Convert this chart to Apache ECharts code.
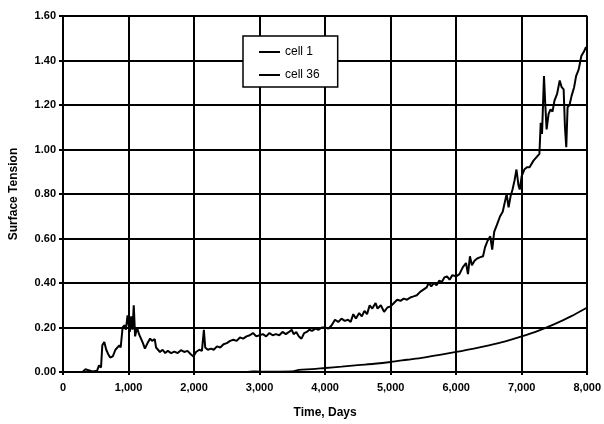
<!DOCTYPE html>
<html>
<head>
<meta charset="utf-8">
<script src="https://cdn.jsdelivr.net/npm/echarts@6/dist/echarts.min.js"></script>
<style>
  html, body { margin: 0; padding: 0; background: #fff; }
  #chart { width: 604px; height: 424px; }
</style>
</head>
<body>
<div id="chart"></div>
<script>
// x 轴刻度 (days)
const xTicks = [0, 1000, 2000, 3000, 4000, 5000, 6000, 7000, 8000]
// y 轴刻度
const yTicks = [0, 0.2, 0.4, 0.6, 0.8, 1.0, 1.2, 1.4, 1.6]

// cell 1: noisy curve [day, surface tension]
const cell1 = [
  [0, 0], [150, 0], [300, 0], [340, 0.012], [370, 0.004], [450, 0.002], [520, 0.006], [550, 0.03],
  [580, 0.02], [600, 0.12], [630, 0.135], [660, 0.1], [690, 0.08], [720, 0.065], [760, 0.07], [800, 0.1],
  [830, 0.095], [860, 0.12], [880, 0.11], [910, 0.2], [940, 0.21], [960, 0.19], [985, 0.255], [1000, 0.22],
  [1020, 0.18], [1040, 0.25], [1060, 0.19], [1080, 0.3], [1100, 0.16], [1130, 0.2], [1160, 0.17], [1190, 0.165],
  [1220, 0.13], [1250, 0.105], [1290, 0.13], [1330, 0.15], [1360, 0.14], [1400, 0.148], [1420, 0.11], [1450, 0.1],
  [1480, 0.09], [1520, 0.1], [1560, 0.085], [1600, 0.095], [1650, 0.085], [1700, 0.092], [1750, 0.085], [1800, 0.098],
  [1850, 0.09], [1900, 0.095], [1950, 0.08], [1990, 0.07], [2030, 0.09], [2080, 0.1], [2120, 0.095], [2150, 0.19],
  [2170, 0.11], [2210, 0.1], [2260, 0.105], [2300, 0.1], [2350, 0.115], [2400, 0.11], [2450, 0.125], [2500, 0.13],
  [2550, 0.14], [2600, 0.145], [2650, 0.14], [2700, 0.155], [2750, 0.15], [2800, 0.16], [2850, 0.165], [2900, 0.175],
  [2950, 0.16], [3000, 0.165], [3050, 0.17], [3100, 0.16], [3150, 0.175], [3200, 0.165], [3250, 0.17], [3300, 0.165],
  [3350, 0.18], [3400, 0.17], [3450, 0.18], [3490, 0.19], [3520, 0.17], [3560, 0.18], [3600, 0.16], [3640, 0.15],
  [3680, 0.175], [3720, 0.18], [3760, 0.19], [3800, 0.185], [3850, 0.195], [3900, 0.19], [3950, 0.2], [4000, 0.2],
  [4050, 0.195], [4100, 0.21], [4150, 0.235], [4200, 0.225], [4250, 0.24], [4300, 0.23], [4350, 0.235], [4390, 0.225],
  [4430, 0.26], [4470, 0.24], [4520, 0.265], [4560, 0.25], [4600, 0.275], [4640, 0.26], [4680, 0.3], [4720, 0.285],
  [4770, 0.31], [4800, 0.285], [4850, 0.3], [4900, 0.27], [4950, 0.29], [5000, 0.295], [5050, 0.31], [5100, 0.325],
  [5150, 0.32], [5200, 0.33], [5250, 0.325], [5300, 0.335], [5350, 0.34], [5400, 0.345], [5450, 0.36], [5500, 0.37],
  [5550, 0.38], [5580, 0.4], [5620, 0.385], [5660, 0.4], [5700, 0.39], [5740, 0.41], [5780, 0.405], [5820, 0.425],
  [5860, 0.43], [5900, 0.415], [5940, 0.435], [6000, 0.43], [6050, 0.44], [6100, 0.47], [6150, 0.49], [6180, 0.44],
  [6210, 0.52], [6240, 0.48], [6280, 0.5], [6320, 0.51], [6360, 0.515], [6410, 0.52], [6440, 0.56], [6480, 0.59],
  [6520, 0.61], [6550, 0.55], [6580, 0.63], [6620, 0.66], [6670, 0.7], [6710, 0.72], [6740, 0.76], [6770, 0.8],
  [6800, 0.74], [6830, 0.79], [6860, 0.82], [6890, 0.86], [6920, 0.91], [6950, 0.84], [6970, 0.82], [7000, 0.88],
  [7040, 0.91], [7080, 0.92], [7120, 0.92], [7180, 0.95], [7240, 0.97], [7270, 0.98], [7290, 1.12], [7310, 1.07],
  [7340, 1.33], [7360, 1.2], [7380, 1.09], [7410, 1.16], [7440, 1.18], [7470, 1.17], [7500, 1.22], [7540, 1.25],
  [7580, 1.31], [7610, 1.28], [7640, 1.27], [7660, 1.1], [7680, 1.01], [7700, 1.19], [7730, 1.2], [7760, 1.24],
  [7800, 1.28], [7830, 1.33], [7870, 1.36], [7910, 1.42], [7950, 1.44], [7980, 1.46], [8000, 1.45]
]

// cell 36: smooth curve
const cell36 = [
  [0, 0], [2800, 0], [2900, 0.003], [3000, 0.002], [3500, 0.003], [3600, 0.01], [3800, 0.013], [4000, 0.018],
  [4250, 0.024], [4500, 0.031], [4750, 0.037], [5000, 0.045], [5250, 0.055], [5500, 0.065], [5750, 0.077],
  [6000, 0.09], [6250, 0.104], [6500, 0.12], [6750, 0.138], [7000, 0.16], [7250, 0.185], [7500, 0.215],
  [7750, 0.25], [8000, 0.29]
]

const seriesNames = ['cell 1', 'cell 36']

const chart = echarts.init(document.getElementById('chart'))
const fontFamily = 'Liberation Sans, Arial, sans-serif'

chart.setOption({
  animation: false,
  backgroundColor: '#fff',
  grid: { left: 61, right: 15, top: 16, bottom: 52 },
  legend: {
    data: seriesNames,
    orient: 'vertical',
    left: 243,
    top: 36,
    padding: [10, 18, 6, 16],
    itemGap: 11,
    itemWidth: 21,
    itemHeight: 2,
    icon: 'rect',
    backgroundColor: '#fff',
    borderColor: '#000',
    borderWidth: 1.5,
    borderRadius: 0,
    textStyle: { color: '#000', fontSize: 12, fontFamily: fontFamily }
  },
  xAxis: {
    type: 'value',
    min: xTicks[0],
    max: xTicks[xTicks.length - 1],
    interval: 1000,
    name: 'Time, Days',
    nameLocation: 'middle',
    nameGap: 35,
    nameTextStyle: { color: '#000', fontSize: 12, fontWeight: 'bold', fontFamily: fontFamily },
    axisLine: { lineStyle: { color: '#000', width: 2 } },
    axisTick: { show: true, length: 3, lineStyle: { color: '#000', width: 2 } },
    axisLabel: {
      color: '#000', fontSize: 11, fontWeight: 'bold', fontFamily: fontFamily, margin: 10,
      formatter: v => v.toLocaleString('en-US')
    },
    splitLine: { show: true, lineStyle: { color: '#000', width: 2 } }
  },
  yAxis: {
    type: 'value',
    min: yTicks[0],
    max: yTicks[yTicks.length - 1],
    interval: 0.2,
    name: 'Surface Tension',
    nameLocation: 'middle',
    nameRotate: 90,
    nameGap: 43,
    nameTextStyle: { color: '#000', fontSize: 12, fontWeight: 'bold', fontFamily: fontFamily },
    axisLine: { show: true, lineStyle: { color: '#000', width: 2 } },
    axisTick: { show: true, length: 4, lineStyle: { color: '#000', width: 2 } },
    axisLabel: {
      color: '#000', fontSize: 11, fontWeight: 'bold', fontFamily: fontFamily, margin: 7,
      formatter: v => v.toFixed(2)
    },
    splitLine: { show: true, lineStyle: { color: '#000', width: 2 } }
  },
  series: [
    {
      name: seriesNames[0],
      type: 'line',
      data: cell1,
      showSymbol: false,
      symbol: 'none',
      itemStyle: { color: '#000' },
      lineStyle: { color: '#000', width: 2 },
      z: 3
    },
    {
      name: seriesNames[1],
      type: 'line',
      data: cell36,
      showSymbol: false,
      symbol: 'none',
      smooth: 0.3,
      itemStyle: { color: '#000' },
      lineStyle: { color: '#000', width: 1.8 },
      z: 3
    }
  ]
})
</script>
</body>
</html>
